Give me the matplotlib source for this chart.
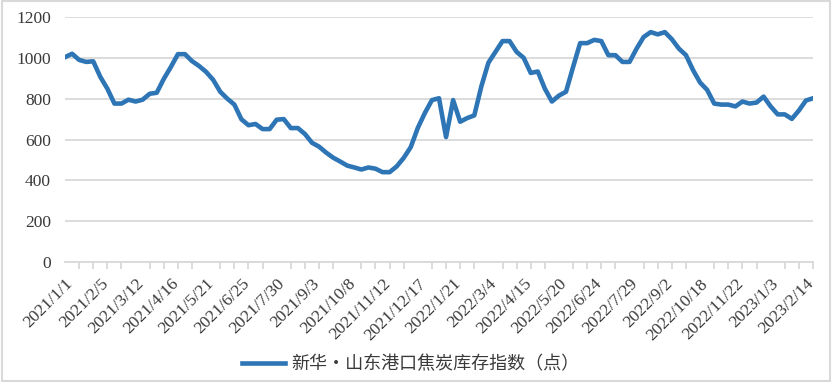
import numpy as np
import matplotlib
matplotlib.use('Agg')
import matplotlib.pyplot as plt
from matplotlib.patches import Rectangle

# Daten
tick_labels = ['2021/1/1', '2021/2/5', '2021/3/12', '2021/4/16', '2021/5/21', '2021/6/25',
               '2021/7/30', '2021/9/3', '2021/10/8', '2021/11/12', '2021/12/17', '2022/1/21',
               '2022/3/4', '2022/4/15', '2022/5/20', '2022/6/24', '2022/7/29', '2022/9/2',
               '2022/10/18', '2022/11/22', '2023/1/3', '2023/2/14']

werte = [1003, 1020, 990, 980, 983, 907, 849, 776, 776, 795,
         786, 795, 824, 829, 897, 955, 1018, 1018, 984, 960,
         931, 892, 834, 800, 771, 699, 670, 676, 651, 651,
         697, 700, 656, 656, 627, 584, 565, 536, 511, 492,
         472, 463, 453, 463, 457, 440, 440, 468, 510, 563,
         657, 730, 793, 802, 612, 793, 687, 705, 718, 860,
         976, 1029, 1082, 1082, 1029, 1000, 926, 933, 849, 786,
         815, 834, 955, 1072, 1072, 1088, 1082, 1013, 1013, 980,
         980, 1045, 1102, 1126, 1115, 1126, 1091, 1045, 1013, 940,
         879, 843, 776, 771, 771, 762, 786, 776, 781, 810,
         762, 723, 723, 701, 742, 791, 802]

legende = '新华·山东港口焦炭库存指数（点）'

blau = '#2E75B6'
grau = '#d9d9d9'
text_farbe = '#3a3a3a'

fig = plt.figure(figsize=(8.32, 3.82), dpi=100)
ax = fig.add_axes([65 / 832, 1 - 262 / 382, (813 - 65) / 832, (262 - 17) / 382])

x = np.arange(len(werte))
ax.plot(x, werte, color=blau, linewidth=3.3, solid_joinstyle='round', label=legende, zorder=3)

ax.set_xlim(0, len(werte) - 1)
ax.set_ylim(0, 1200)
ax.set_yticks(np.arange(0, 1201, 200))
ax.yaxis.grid(True, color=grau, linewidth=1.3)
ax.set_axisbelow(True)

for s in ['top', 'right', 'left']:
    ax.spines[s].set_visible(False)
ax.spines['bottom'].set_color(grau)
ax.spines['bottom'].set_linewidth(1.3)

ax.set_xticks(np.arange(0, len(tick_labels) * 5, 5))
ax.set_xticks(np.arange(0, len(werte), 2), minor=True)
ax.set_xticklabels(tick_labels, rotation=45, ha='right', va='top', rotation_mode='anchor',
                   fontsize=12.5, family='Liberation Serif', color=text_farbe)
ax.tick_params(axis='x', which='major', length=0, pad=10)
ax.tick_params(axis='x', which='minor', length=5, color=grau, width=1.3)
ax.tick_params(axis='y', length=0, pad=10)
for lbl in ax.get_yticklabels():
    lbl.set_fontsize(12.5)
    lbl.set_family('Liberation Serif')
    lbl.set_color(text_farbe)

leg = fig.legend(loc='center', bbox_to_anchor=(0.4935, 1 - 364 / 382), frameon=False,
                 handlelength=2.4, handletextpad=0.3,
                 prop={'family': ['Noto Sans CJK SC', 'DejaVu Sans'], 'size': 13})
for t in leg.get_texts():
    t.set_color(text_farbe)

fig.patches.append(Rectangle((0.002, 0.003), 0.996, 0.994, transform=fig.transFigure,
                             fill=False, edgecolor=grau, linewidth=1.5))

fig.savefig('out.png', dpi=100)
